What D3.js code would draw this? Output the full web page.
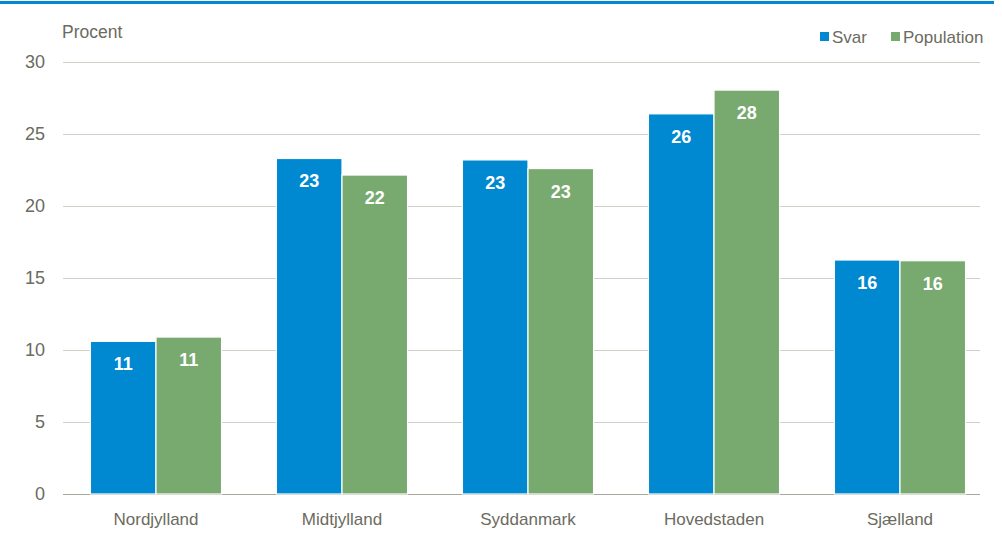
<!DOCTYPE html>
<html><head><meta charset="utf-8">
<script src="https://cdn.jsdelivr.net/npm/d3@7"></script>
<style>body{margin:0;background:#fff}svg{display:block;font-family:"Liberation Sans",Arial,sans-serif}</style>
</head><body>
<svg id="c" width="1002" height="539"></svg>
<script>
const categories = ["Nordjylland","Midtjylland","Syddanmark","Hovedstaden","Sjælland"];
const seriesNames = ["Svar","Population"];
const svar = [10.6, 23.3, 23.2, 26.4, 16.25];
const population = [10.9, 22.15, 22.6, 28.05, 16.2];
const yTicks = [0,5,10,15,20,25,30];
const colors = ["#0089D0","#78AA6F"];

const svg = d3.select("#c");
const textColor = "#6b6b60";
svg.append("rect").attr("x",0).attr("y",1).attr("width",994).attr("height",3).attr("fill","#0089D0");

const x0 = d3.scaleBand().domain(categories).range([63,993]).paddingInner(0.295).paddingOuter(0.1475);
const x1 = d3.scaleBand().domain(seriesNames).range([0,x0.bandwidth()]);
const y = d3.scaleLinear().domain([0,30]).range([494,62]);

const grid = svg.append("g");
grid.selectAll("line").data(yTicks).join("line")
  .attr("x1",63).attr("x2",980).attr("y1",d=>y(d)).attr("y2",d=>y(d))
  .attr("stroke",d=>d===0?"#a8a89c":"#d0d0c6").attr("stroke-width",1).attr("shape-rendering","crispEdges");

const yAxis = svg.append("g").attr("transform","translate(45,0)")
  .call(d3.axisLeft(y).tickValues(yTicks).tickSize(0).tickPadding(0));
yAxis.select(".domain").remove();
yAxis.selectAll("text").attr("fill",textColor).attr("font-size",18).attr("font-family","Liberation Sans, Arial, sans-serif");

const xAxis = svg.append("g").attr("transform","translate(0,494)")
  .call(d3.axisBottom(x0).tickSize(0).tickPadding(19));
xAxis.select(".domain").remove();
xAxis.selectAll("text").attr("fill",textColor).attr("font-size",17).attr("font-family","Liberation Sans, Arial, sans-serif");

const data = categories.map((c,i)=>({cat:c, vals:[{s:"Svar",v:svar[i]},{s:"Population",v:population[i]}]}));
const groups = svg.append("g").selectAll("g").data(data).join("g")
  .attr("transform",d=>`translate(${x0(d.cat)},0)`);
groups.selectAll("rect").data(d=>d.vals).join("rect")
  .attr("x",d=>x1(d.s)).attr("width",x1.bandwidth())
  .attr("y",d=>y(d.v)).attr("height",d=>y(0)-y(d.v))
  .attr("fill",(d,i)=>colors[i]).attr("stroke","#fff").attr("stroke-width",1.2);
groups.selectAll("text").data(d=>d.vals).join("text")
  .attr("x",d=>x1(d.s)+x1.bandwidth()/2).attr("y",d=>y(d.v)+29)
  .attr("text-anchor","middle").attr("fill","#fff").attr("font-weight","bold").attr("font-size",18)
  .text(d=>Math.round(d.v));

svg.append("text").attr("x",62).attr("y",38).attr("fill",textColor).attr("font-size",17.5).text("Procent");

const leg = svg.append("g");
const legItems = [{n:"Svar",x:820},{n:"Population",x:891}];
legItems.forEach((l,i)=>{
  leg.append("rect").attr("x",l.x).attr("y",32).attr("width",9).attr("height",9).attr("fill",colors[i]);
  leg.append("text").attr("x",l.x+12).attr("y",43).attr("fill",textColor).attr("font-size",17).text(l.n);
});
</script>
</body></html>
